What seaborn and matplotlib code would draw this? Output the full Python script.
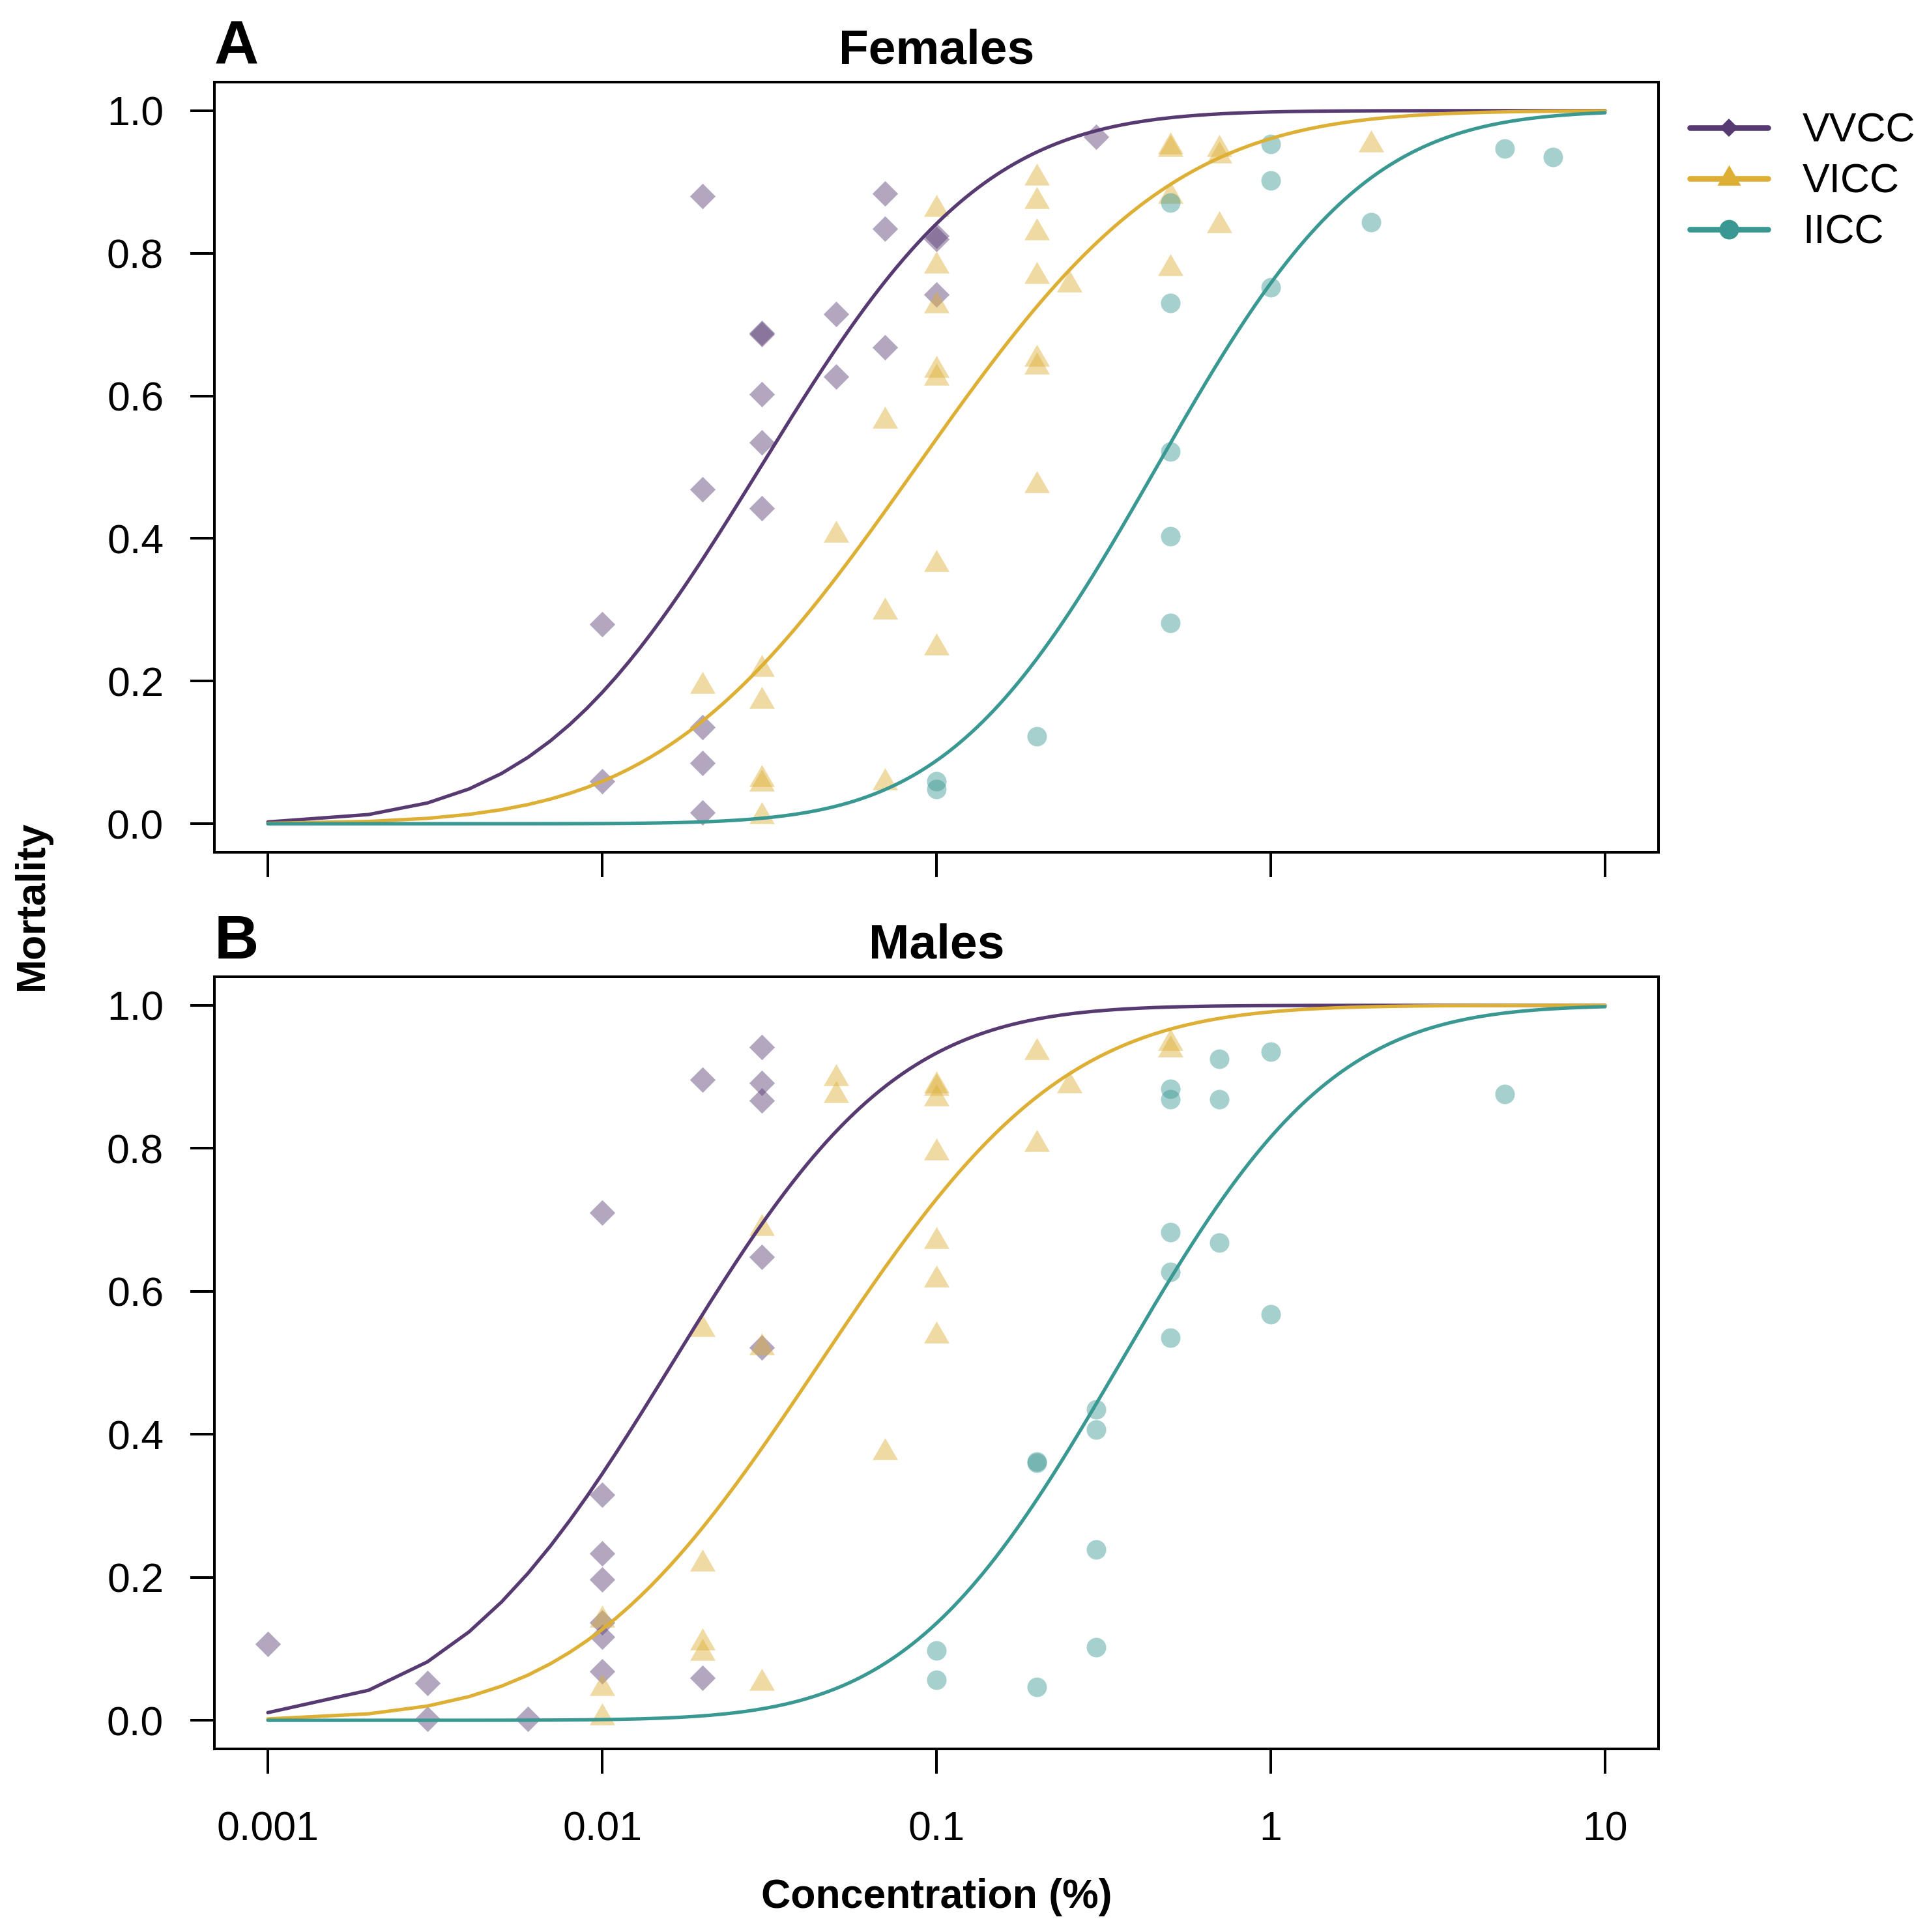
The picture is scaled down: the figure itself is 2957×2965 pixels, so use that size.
import math
import numpy as np
import pandas as pd
import matplotlib
matplotlib.use("Agg")
import matplotlib.pyplot as plt
import matplotlib.ticker as mticker
from matplotlib.lines import Line2D
from matplotlib.path import Path
import seaborn as sns

# ------------------------------------------------------------------ data
groups = ["VVCC", "VICC", "IICC"]
colors = ["#583A72", "#DDAF34", "#3A9893"]

# Females (panel A)
fem_vvcc_x = [0.01, 0.01, 0.02, 0.02, 0.02, 0.02, 0.02, 0.03, 0.03, 0.03, 0.03, 0.03,
              0.05, 0.05, 0.07, 0.07, 0.07, 0.1, 0.1, 0.1, 0.3]
fem_vvcc_y = [0.280, 0.060, 0.880, 0.469, 0.135, 0.085, 0.016, 0.688, 0.686, 0.602, 0.535, 0.442,
              0.715, 0.627, 0.884, 0.834, 0.668, 0.824, 0.820, 0.742, 0.963]
fem_vicc_x = [0.02, 0.03, 0.03, 0.03, 0.03, 0.03, 0.05, 0.07, 0.07, 0.07,
              0.1, 0.1, 0.1, 0.1, 0.1, 0.1, 0.1, 0.2, 0.2, 0.2, 0.2, 0.2, 0.2, 0.2,
              0.25, 0.5, 0.5, 0.5, 0.5, 0.7, 0.7, 0.7, 2]
fem_vicc_y = [0.193, 0.217, 0.172, 0.062, 0.056, 0.010, 0.405, 0.565, 0.297, 0.058,
              0.862, 0.782, 0.727, 0.636, 0.625, 0.364, 0.247, 0.906, 0.873, 0.829, 0.768, 0.652, 0.641, 0.474,
              0.756, 0.950, 0.946, 0.880, 0.779, 0.946, 0.937, 0.839, 0.952]
fem_iicc_x = [0.1, 0.1, 0.2, 0.5, 0.5, 0.5, 0.5, 0.5, 1, 1, 1, 2, 5, 7]
fem_iicc_y = [0.060, 0.049, 0.123, 0.871, 0.730, 0.522, 0.403, 0.282, 0.953, 0.902, 0.752, 0.844, 0.947, 0.935]

# Males (panel B)
male_vvcc_x = [0.001, 0.003, 0.003, 0.006, 0.01, 0.01, 0.01, 0.01, 0.01, 0.01, 0.01,
               0.02, 0.02, 0.03, 0.03, 0.03, 0.03, 0.03]
male_vvcc_y = [0.107, 0.052, 0.002, 0.002, 0.710, 0.315, 0.233, 0.197, 0.137, 0.117, 0.068,
               0.896, 0.059, 0.942, 0.891, 0.867, 0.648, 0.521]
male_vicc_x = [0.01, 0.01, 0.01, 0.02, 0.02, 0.02, 0.02, 0.03, 0.03, 0.03, 0.05, 0.05, 0.07,
               0.1, 0.1, 0.1, 0.1, 0.1, 0.1, 0.1, 0.2, 0.2, 0.25, 0.5, 0.5]
male_vicc_y = [0.140, 0.045, 0.004, 0.547, 0.219, 0.109, 0.094, 0.688, 0.521, 0.052, 0.898, 0.874, 0.375,
               0.888, 0.884, 0.870, 0.794, 0.670, 0.616, 0.538, 0.934, 0.806, 0.888, 0.947, 0.938]
male_iicc_x = [0.1, 0.1, 0.2, 0.2, 0.2, 0.3, 0.3, 0.3, 0.3, 0.5, 0.5, 0.5, 0.5, 0.5,
               0.7, 0.7, 0.7, 1, 1, 5]
male_iicc_y = [0.098, 0.057, 0.362, 0.360, 0.047, 0.435, 0.407, 0.239, 0.102, 0.883, 0.869, 0.683, 0.627, 0.535,
               0.925, 0.869, 0.668, 0.935, 0.568, 0.876]

# fitted probit curves: mortality = Phi(intercept + slope * log10(conc))
fem_intercepts = [2.90, 1.76, 0.70]
fem_slopes = [1.90, 1.66, 2.05]
male_intercepts = [3.40, 2.36, 0.90]
male_slopes = [1.90, 1.75, 2.00]

xtick_vals = [0.001, 0.01, 0.1, 1, 10]
xtick_labels = ["0.001", "0.01", "0.1", "1", "10"]
ytick_vals = [0.0, 0.2, 0.4, 0.6, 0.8, 1.0]
ytick_labels = ["0.0", "0.2", "0.4", "0.6", "0.8", "1.0"]

panel_letters = ["A", "B"]
panel_titles = ["Females", "Males"]

# ------------------------------------------------------------------ tables
def make_points(sex, xs, ys):
    rows = []
    for g, x, y in zip(groups, xs, ys):
        rows.append(pd.DataFrame({"sex": sex, "group": g, "conc": x, "mort": y}))
    return pd.concat(rows, ignore_index=True)

points = pd.concat([
    make_points("Females", [fem_vvcc_x, fem_vicc_x, fem_iicc_x], [fem_vvcc_y, fem_vicc_y, fem_iicc_y]),
    make_points("Males", [male_vvcc_x, male_vicc_x, male_iicc_x], [male_vvcc_y, male_vicc_y, male_iicc_y]),
], ignore_index=True)

grid = np.arange(1, 10001) / 1000.0   # prediction grid 0.001 ... 10
erf = np.vectorize(math.erf)

def probit_curve(a, b):
    z = a + b * np.log10(grid)
    return 0.5 * (1.0 + erf(z / math.sqrt(2.0)))

curve_rows = []
for sex, ints, slps in [("Females", fem_intercepts, fem_slopes), ("Males", male_intercepts, male_slopes)]:
    for g, a, b in zip(groups, ints, slps):
        curve_rows.append(pd.DataFrame({"sex": sex, "group": g, "conc": grid, "mort": probit_curve(a, b)}))
curves = pd.concat(curve_rows, ignore_index=True)

# ------------------------------------------------------------------ style
sns.set_style("ticks")
plt.rcParams["font.family"] = ["Liberation Sans", "DejaVu Sans"]
plt.rcParams["axes.linewidth"] = 2.9
plt.rcParams["text.color"] = "black"
plt.rcParams["axes.labelcolor"] = "black"
plt.rcParams["xtick.color"] = "black"
plt.rcParams["ytick.color"] = "black"
plt.rcParams["axes.edgecolor"] = "black"

tri = Path([(0, 1), (-0.866, -0.5), (0.866, -0.5), (0, 1)], closed=True)
markers = {"VVCC": "D", "VICC": tri, "IICC": "o"}
sizes = {"VVCC": 400, "VICC": 1050, "IICC": 467}
pal = dict(zip(groups, colors))

W, H = 2957, 2965
fig = plt.figure(figsize=(W / 100, H / 100), dpi=100)
axA = fig.add_axes([329 / W, 1 - 1308 / H, 2216 / W, 1182 / H])
axB = fig.add_axes([329 / W, 1 - 2684 / H, 2216 / W, 1185 / H])

for ax, sex, letter, title in zip([axA, axB], ["Females", "Males"], panel_letters, panel_titles):
    ax.set_xscale("log")
    for g in groups:
        sub = points[(points.sex == sex) & (points.group == g)]
        sns.scatterplot(data=sub, x="conc", y="mort", marker=markers[g], s=sizes[g],
                        color=pal[g], alpha=0.45, linewidth=0, ax=ax, legend=False, zorder=2)
    for g in groups:
        sub = curves[(curves.sex == sex) & (curves.group == g)]
        sns.lineplot(data=sub, x="conc", y="mort", color=pal[g], linewidth=3.8,
                     estimator=None, sort=False, ax=ax, legend=False, zorder=3)
    ax.set_xlim(10 ** -3.16, 10 ** 1.16)
    ax.set_ylim(-0.04, 1.04)
    ax.set_xticks(xtick_vals)
    ax.set_xticklabels(xtick_labels)
    ax.xaxis.set_minor_locator(mticker.NullLocator())
    ax.set_yticks(ytick_vals)
    ax.set_yticklabels(ytick_labels)
    ax.set_xlabel("")
    ax.set_ylabel("")
    for sp in ax.spines.values():
        sp.set_visible(True)
        sp.set_linewidth(2.9)
        sp.set_color("black")
    ax.tick_params(axis="both", which="major", direction="out", length=27, width=2.9,
                   colors="black", labelcolor="black", labelsize=45)
    ax.tick_params(axis="y", pad=29)
    ax.tick_params(axis="x", pad=41)
    ax.text(0.0, 1 + 28 / 1182, letter, transform=ax.transAxes, ha="left", va="baseline",
            fontsize=68, fontweight="bold", color="black")
    ax.text(0.5, 1 + 28 / 1182, title, transform=ax.transAxes, ha="center", va="baseline",
            fontsize=54, fontweight="bold", color="black")

axA.tick_params(axis="x", labelbottom=False)

fig.text(49 / W, 1 - 1390 / H, "Mortality", rotation=90, ha="center", va="center",
         fontsize=45, fontweight="bold", color="black")
fig.text(0.5 * (329 + 2545) / W, 1 - 2928 / H, "Concentration (%)", ha="center", va="baseline",
         fontsize=45, fontweight="bold", color="black")

handles = [
    Line2D([], [], color=colors[0], lw=6.2, marker="D", markersize=14, markeredgewidth=0),
    Line2D([], [], color=colors[1], lw=6.2, marker=tri, markersize=30, markeredgewidth=0),
    Line2D([], [], color=colors[2], lw=6.2, marker="o", markersize=21.6, markeredgewidth=0),
]
leg = fig.legend(handles, groups, loc="upper left", bbox_to_anchor=(2593 / W, 1 - 172 / H),
                 frameon=False, fontsize=45, handlelength=1.92, handletextpad=0.85,
                 labelspacing=0.3, borderpad=0, borderaxespad=0)
for t in leg.get_texts():
    t.set_color("black")

fig.savefig("out.png", dpi=100)
